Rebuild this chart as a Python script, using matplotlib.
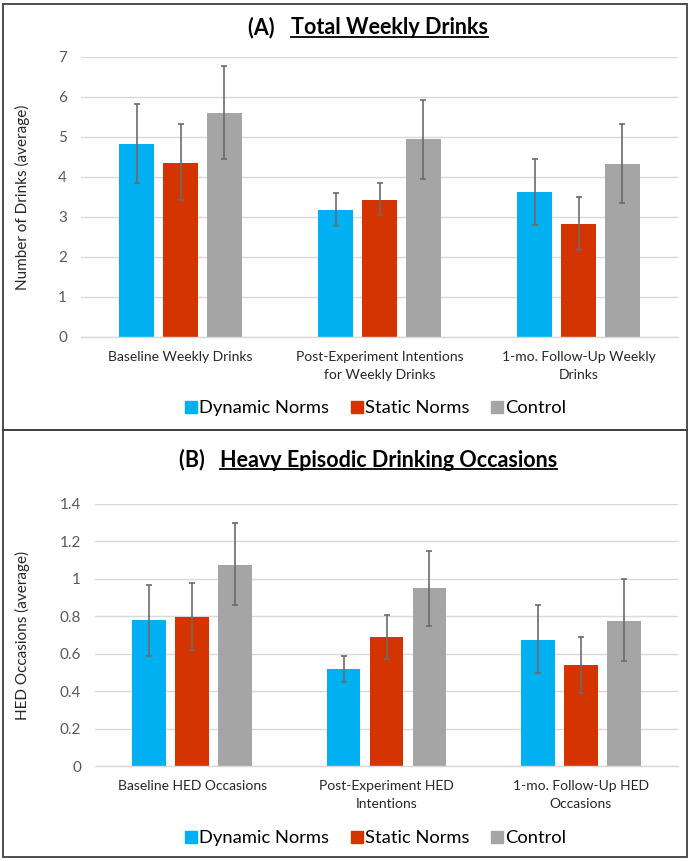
import matplotlib
matplotlib.use("Agg")
import matplotlib.pyplot as plt
from matplotlib.patches import Rectangle
from matplotlib.lines import Line2D
import numpy as np

plt.rcParams['font.family'] = ['Lato', 'DejaVu Sans']

groups = ["Dynamic Norms", "Static Norms", "Control"]
colors = ["#00B0F0", "#D43500", "#A5A5A5"]

cats_a = ["Baseline Weekly Drinks", "Post-Experiment Intentions\nfor Weekly Drinks", "1-mo. Follow-Up Weekly\nDrinks"]
vals_a = {
    "Dynamic Norms": [4.83, 3.18, 3.62],
    "Static Norms": [4.36, 3.43, 2.83],
    "Control": [5.61, 4.94, 4.33],
}
err_lo_a = {
    "Dynamic Norms": [3.86, 2.78, 2.81],
    "Static Norms": [3.43, 3.04, 2.17],
    "Control": [4.46, 3.96, 3.34],
}
err_hi_a = {
    "Dynamic Norms": [5.82, 3.61, 4.45],
    "Static Norms": [5.32, 3.85, 3.51],
    "Control": [6.78, 5.93, 5.33],
}

cats_b = ["Baseline HED Occasions", "Post-Experiment HED\nIntentions", "1-mo. Follow-Up HED\nOccasions"]
vals_b = {
    "Dynamic Norms": [0.778, 0.517, 0.675],
    "Static Norms": [0.798, 0.688, 0.538],
    "Control": [1.076, 0.950, 0.777],
}
err_lo_b = {
    "Dynamic Norms": [0.589, 0.449, 0.499],
    "Static Norms": [0.618, 0.570, 0.389],
    "Control": [0.860, 0.750, 0.559],
}
err_hi_b = {
    "Dynamic Norms": [0.969, 0.589, 0.860],
    "Static Norms": [0.980, 0.808, 0.689],
    "Control": [1.299, 1.151, 0.999],
}

W, H = 693, 861
fig = plt.figure(figsize=(W / 100, H / 100), dpi=100)

def fx(px):
    return px / W

def fy(py):
    return 1 - py / H

# panel borders
for (top, bot) in [(4, 430), (430, 857)]:
    fig.add_artist(Rectangle((fx(3), fy(bot)), fx(687 - 3), fy(top) - fy(bot),
                             transform=fig.transFigure, fill=False,
                             edgecolor="#404040", linewidth=1.3))


def panel(left, top, bottom, cats, vals, lo, hi, ymax, ystep, ylabel, tick_fmt,
          title_prefix, title_main, title_y, cat_y, legend_y):
    right = 678
    ax = fig.add_axes([fx(left), fy(bottom), fx(right - left), fy(top) - fy(bottom)])
    x = np.arange(len(cats))
    bw = 0.173
    step = 0.221
    for i, g in enumerate(groups):
        v = np.array(vals[g])
        l = np.array(lo[g])
        h = np.array(hi[g])
        xs = x + (i - 1) * step
        ax.bar(xs, v, width=bw, color=colors[i], zorder=2)
        ax.errorbar(xs, v, yerr=[v - l, h - v], fmt="none", ecolor="#6b6b6b",
                    elinewidth=1.2, capsize=2.5, capthick=1.2, zorder=3)
    ax.set_xlim(-0.5, 2.5)
    ax.set_ylim(0, ymax)
    ticks = np.arange(0, ymax + 1e-9, ystep)
    ax.set_yticks(ticks)
    ax.set_yticklabels([tick_fmt(t) for t in ticks])
    ax.yaxis.grid(True, color="#D9D9D9", linewidth=1.0, zorder=0)
    ax.set_axisbelow(True)
    for s in ["top", "right", "left"]:
        ax.spines[s].set_visible(False)
    ax.spines["bottom"].set_color("#D9D9D9")
    ax.spines["bottom"].set_linewidth(1.0)
    ax.tick_params(axis="y", length=0, labelsize=11, labelcolor="#595959", pad=10)
    ax.tick_params(axis="x", length=0)
    ax.set_xticks([])
    ax.set_ylabel(ylabel, fontsize=11, color="#262626", va="center")
    ax.yaxis.set_label_coords((22 - left) / (right - left), 0.5)
    # category labels
    for xi, c in zip(x, cats):
        xd = ax.transData.transform((xi, 0))[0]
        fig.text(xd / fig.bbox.width, fy(cat_y), c, ha="center", va="top",
                 fontsize=10, color="#262626", linespacing=1.6)
    # legend
    handles = [Line2D([0], [0], marker="s", linestyle="none", markersize=8,
                      markerfacecolor=c, markeredgecolor=c) for c in colors]
    fig.legend(handles, groups, loc="center", bbox_to_anchor=(fx(375), fy(legend_y)),
               ncol=3, frameon=False, fontsize=13.2, handletextpad=0.05,
               columnspacing=1.1, handlelength=0.8)
    # title with underline
    t1 = fig.text(0, fy(title_y), title_prefix + "   ", fontsize=15.5, fontweight="bold",
                  ha="left", va="center", color="#000000")
    t2 = fig.text(0, fy(title_y), title_main, fontsize=15.5, fontweight="bold",
                  ha="left", va="center", color="#000000")
    fig.canvas.draw()
    r = fig.canvas.get_renderer()
    b1 = t1.get_window_extent(r)
    b2 = t2.get_window_extent(r)
    total = b1.width + b2.width
    start = 368 - total / 2
    t1.set_x(start / W)
    t2.set_x((start + b1.width) / W)
    uy = b2.y0 + 2
    fig.add_artist(Line2D([(start + b1.width) / W, (start + b1.width + b2.width) / W],
                          [uy / H, uy / H], transform=fig.transFigure,
                          color="#000000", linewidth=1.3))
    return ax


panel(81, 57, 337, cats_a, vals_a, err_lo_a, err_hi_a, 7, 1,
      "Number of Drinks (average)", lambda t: f"{int(t)}",
      "(A)", "Total Weekly Drinks", 28, 351, 408)


def fmt_b(t):
    t = round(t, 1)
    if abs(t - round(t)) < 1e-9:
        return f"{int(round(t))}"
    return f"{t:.1f}"


panel(95, 504, 766, cats_b, vals_b, err_lo_b, err_hi_b, 1.4, 0.2,
      "HED Occasions (average)", fmt_b,
      "(B)", "Heavy Episodic Drinking Occasions", 460, 780, 838)

fig.savefig("out.png", dpi=100)
